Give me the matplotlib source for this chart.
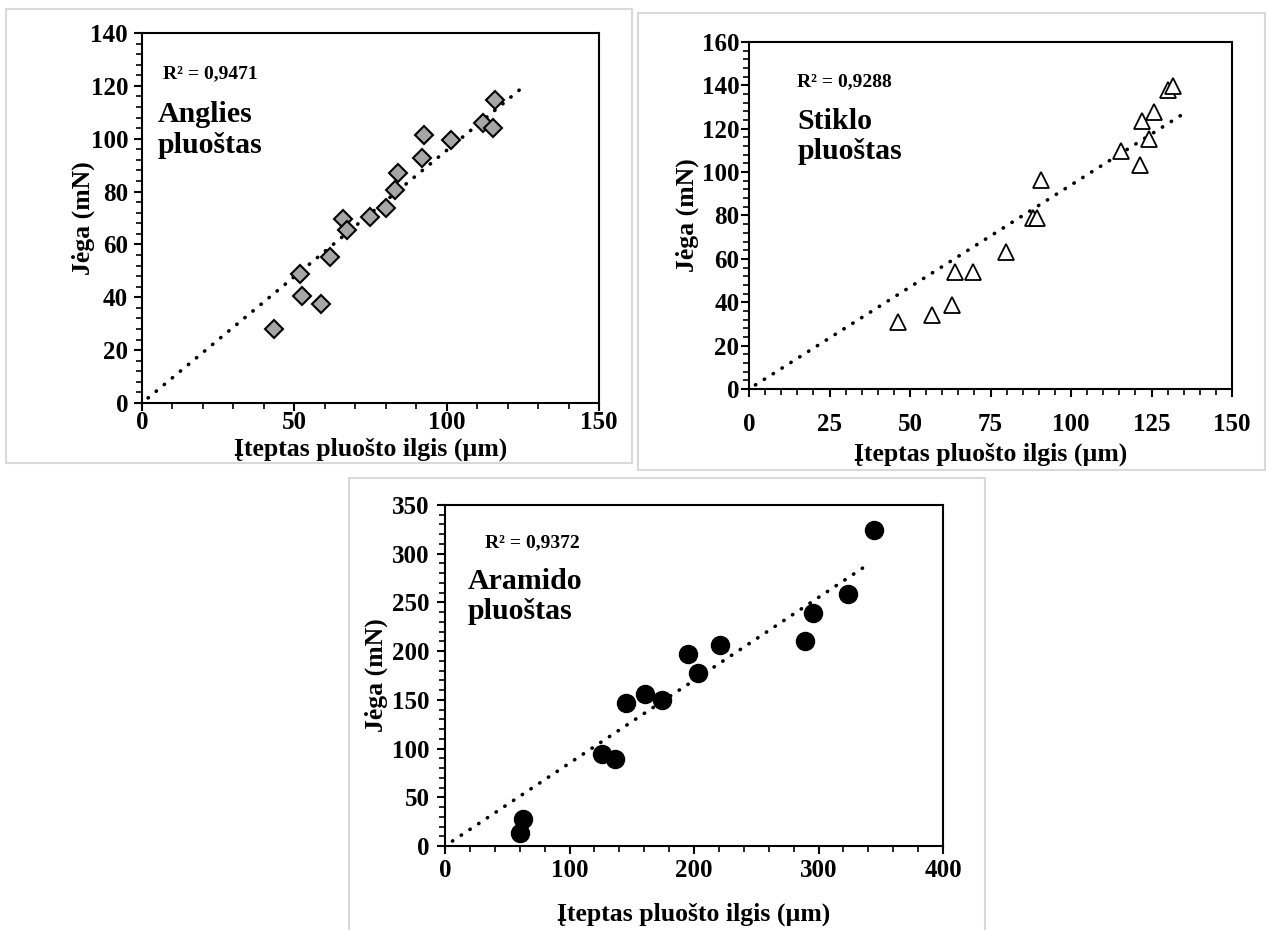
import numpy as np
import matplotlib
matplotlib.use('Agg')
import matplotlib.pyplot as plt
from matplotlib.patches import Rectangle
from matplotlib.ticker import MultipleLocator

plt.rcParams['font.family'] = ['Liberation Serif', 'DejaVu Serif']
plt.rcParams['font.weight'] = 'bold'

# Anglies pluostas (carbon)
x_c = [43.2, 51.7, 52.5, 58.6, 61.8, 66.1, 67.4, 74.8, 80.2, 83.2, 84.0, 91.8, 92.4, 101.3, 112.0, 115.3, 115.8]
y_c = [28.1, 48.9, 40.4, 37.6, 55.2, 69.7, 65.3, 70.4, 73.9, 80.7, 87.0, 92.8, 101.3, 99.7, 105.9, 104.2, 114.8]

# Stiklo pluostas (glass)
x_g = [46.2, 56.7, 63.1, 64.0, 69.5, 79.8, 88.1, 89.4, 90.8, 115.6, 121.5, 122.0, 124.1, 125.9, 130.1, 131.6]
y_g = [31.1, 34.2, 38.8, 54.1, 54.1, 63.4, 78.7, 78.7, 96.3, 109.8, 103.2, 123.6, 115.5, 127.5, 137.7, 139.6]

# Aramido pluostas (aramid)
x_a = [60.5, 62.6, 126.3, 136.3, 145.2, 160.5, 174.2, 195.4, 203.5, 221.2, 289.0, 295.2, 323.9, 344.9]
y_a = [13.7, 27.5, 94.4, 89.2, 146.5, 155.5, 150.0, 197.3, 177.8, 205.9, 210.4, 239.2, 258.4, 324.3]

r2_labels = ['R² = 0,9471', 'R² = 0,9288', 'R² = 0,9372']
names = ['Anglies\npluoštas', 'Stiklo\npluoštas', 'Aramido\npluoštas']
trend_ranges = [(2, 125), (2, 135), (6, 341)]

xlab = 'Įteptas pluošto ilgis (µm)'
ylab = 'Jėga (mN)'

W, H = 1267, 930
fig = plt.figure(figsize=(W / 100, H / 100), dpi=100)


def px_axes(l, t, r, b):
    return fig.add_axes([l / W, 1 - b / H, (r - l) / W, (b - t) / H])


def frame(l, t, r, b):
    fig.patches.append(Rectangle((l / W, 1 - b / H), (r - l) / W, (b - t) / H,
                                 transform=fig.transFigure, fill=False,
                                 edgecolor='#d9d9d9', linewidth=1.5))


def panel(ax, x, y, trange, xmax, xmaj, xmin, ymax, ymaj, ymin, mstyle, r2, name, r2pos, namepos,
          xpad, ypad, xlpad, ylpad):
    x = np.array(x)
    y = np.array(y)
    k = np.sum(x * y) / np.sum(x * x)
    tx = np.array(trange)
    ax.plot(tx, k * tx, linestyle=(0, (0.1, 2.8)), color='black', linewidth=2.6,
            dash_capstyle='round', zorder=2)
    ax.plot(x, y, linestyle='none', zorder=3, **mstyle)
    ax.set_xlim(0, xmax)
    ax.set_ylim(0, ymax)
    ax.xaxis.set_major_locator(MultipleLocator(xmaj))
    ax.xaxis.set_minor_locator(MultipleLocator(xmin))
    ax.yaxis.set_major_locator(MultipleLocator(ymaj))
    ax.yaxis.set_minor_locator(MultipleLocator(ymin))
    ax.tick_params(which='major', direction='out', length=6, width=1.5, labelsize=18)
    ax.tick_params(axis='x', which='major', pad=xpad)
    ax.tick_params(axis='y', which='major', pad=ypad)
    ax.tick_params(which='minor', direction='out', length=4, width=1.2)
    for s in ax.spines.values():
        s.set_linewidth(1.5)
    for lab in ax.get_xticklabels() + ax.get_yticklabels():
        lab.set_fontweight('bold')
    ax.set_xlabel(xlab, fontsize=18.5, fontweight='bold', labelpad=xlpad)
    ax.set_ylabel(ylab, fontsize=18.5, fontweight='bold', labelpad=ylpad)
    ax.text(r2pos[0], r2pos[1], r2, transform=ax.transAxes, fontsize=14,
            fontweight='bold', va='center', ha='left')
    ax.text(namepos[0], namepos[1], name, transform=ax.transAxes, fontsize=21.5,
            fontweight='bold', va='top', ha='left', linespacing=1.15)


frame(6, 9, 632, 463)
frame(638, 13, 1265, 470)
frame(349, 478, 985, 933)

ax1 = px_axes(142, 33, 599, 403)
panel(ax1, x_c, y_c, trend_ranges[0], 150, 50, 10, 140, 20, 4,
      dict(marker='D', markersize=9, markerfacecolor='#a6a6a6', markeredgecolor='black', markeredgewidth=1.5),
      r2_labels[0], names[0], (0.045, 0.89), (0.035, 0.815),
      xpad=0, ypad=4, xlpad=2, ylpad=-3)

ax2 = px_axes(749, 42, 1232, 389)
panel(ax2, x_g, y_g, trend_ranges[1], 150, 25, 5, 160, 20, 4,
      dict(marker='^', markersize=12, markerfacecolor='white', markeredgecolor='black', markeredgewidth=1.3),
      r2_labels[1], names[1], (0.10, 0.885), (0.10, 0.81),
      xpad=11, ypad=1, xlpad=5, ylpad=2)

ax3 = px_axes(445, 505, 943, 846)
panel(ax3, x_a, y_a, trend_ranges[2], 400, 100, 20, 350, 50, 10,
      dict(marker='o', markersize=13, markerfacecolor='black', markeredgecolor='black'),
      r2_labels[2], names[2], (0.08, 0.89), (0.045, 0.815),
      xpad=3, ypad=5, xlpad=15, ylpad=3)

fig.savefig('out.png', dpi=100)
